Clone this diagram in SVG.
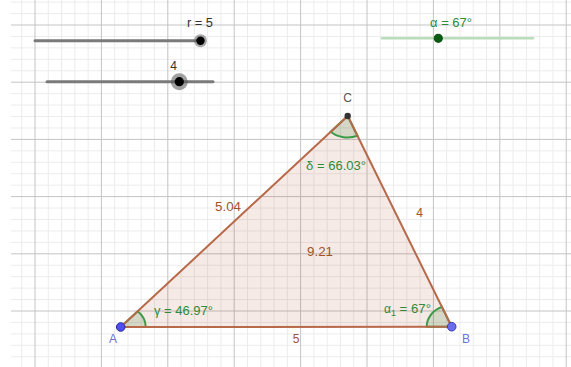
<svg xmlns="http://www.w3.org/2000/svg" width="571" height="367" viewBox="0 0 571 367">
<style>
.minor{stroke:#ececec;stroke-width:1;fill:none}
.major{stroke:#c4c4c4;stroke-width:1;fill:none}
.t{font-family:"Liberation Sans",Arial,sans-serif;font-size:12px}
.dark{fill:#333}
.green{fill:#2f8a3a}
.brown{fill:#a0522d}
.blue{fill:#6f6fd6}
.side{stroke:#b8694a;stroke-width:2;fill:none;stroke-linecap:round}
.ang{fill:rgba(0,100,0,0.13);stroke:#3a9a46;stroke-width:2}
</style>
<rect width="571" height="367" fill="#fff"/>
<g id="grid">
<path class="minor" d="M21.72 0V367M48.28 0V367M61.56 0V367M74.84 0V367M88.12 0V367M114.68 0V367M127.96 0V367M141.24 0V367M154.52 0V367M181.08 0V367M194.36 0V367M207.64 0V367M220.92 0V367M247.48 0V367M260.76 0V367M274.04 0V367M287.32 0V367M313.88 0V367M327.16 0V367M340.44 0V367M353.72 0V367M380.28 0V367M393.56 0V367M406.84 0V367M420.12 0V367M446.68 0V367M459.96 0V367M473.24 0V367M486.52 0V367M513.08 0V367M526.36 0V367M539.64 0V367M552.92 0V367"/>
<path class="minor" d="M11 2.12H571M11 13.56H571M11 36.44H571M11 47.88H571M11 59.32H571M11 70.76H571M11 93.64H571M11 105.08H571M11 116.52H571M11 127.96H571M11 150.84H571M11 162.28H571M11 173.72H571M11 185.16H571M11 208.04H571M11 219.48H571M11 230.92H571M11 242.36H571M11 265.24H571M11 276.68H571M11 288.12H571M11 299.56H571M11 322.44H571M11 333.88H571M11 345.32H571M11 356.76H571"/>
<path class="major" d="M35 0V367M101.4 0V367M167.8 0V367M234.2 0V367M300.6 0V367M367 0V367M433.4 0V367M499.8 0V367M566.2 0V367"/>
<path class="major" d="M11 25H571M11 82.2H571M11 139.4H571M11 196.6H571M11 253.8H571M11 311H571"/>
</g>
<g id="slider-r">
<line x1="35" y1="40.7" x2="200.5" y2="40.7" stroke="#7a7a7a" stroke-width="3" stroke-linecap="round"/>
<circle cx="200.5" cy="40.7" r="6.5" fill="#555" opacity="0.5"/>
<circle cx="200.5" cy="40.7" r="4.2" fill="#000"/>
<text class="t dark" x="187" y="27" textLength="26" lengthAdjust="spacingAndGlyphs">r = 5</text>
</g>
<g id="slider-4">
<line x1="47" y1="81.7" x2="213" y2="81.7" stroke="#7a7a7a" stroke-width="3" stroke-linecap="round"/>
<circle cx="179.3" cy="81.7" r="8.5" fill="#555" opacity="0.55"/>
<circle cx="179.3" cy="81.7" r="4.6" fill="#000"/>
<text class="t dark" x="173.5" y="70" text-anchor="middle">4</text>
</g>
<g id="slider-alpha">
<line x1="382" y1="38.3" x2="533" y2="38.3" stroke="#b9dcb9" stroke-width="2.5" stroke-linecap="round"/>
<circle cx="438.3" cy="38.3" r="4.6" fill="#0a5a14"/>
<text class="t green" x="430" y="27" textLength="42" lengthAdjust="spacingAndGlyphs">α = 67°</text>
</g>
<g id="triangle">
<polygon points="120.7,327 451.7,326.7 347.7,116" fill="rgba(153,51,0,0.1)"/>
</g>
<g id="angles">
<path id="angle-gamma" class="ang" d="M120.7 327L145.7 327A25 21.5 0 0 0 137.7 311.2Z"/>
<path id="angle-alpha1" class="ang" d="M451.7 326.7L441.9 306.9A25 21.5 0 0 0 426.7 326.7Z"/>
<path id="angle-delta" class="ang" d="M347.7 116L330.7 131.8A25 21.5 0 0 0 357.5 135.8Z"/>
</g>
<g id="connectors">
<line id="side-c" class="side" x1="120.7" y1="327" x2="451.7" y2="326.7"/>
<line id="side-a" class="side" x1="451.7" y1="326.7" x2="347.7" y2="116"/>
<line id="side-b" class="side" x1="347.7" y1="116" x2="120.7" y2="327"/>
</g>
<g id="labels">
<text class="t brown" x="215" y="211" textLength="26" lengthAdjust="spacingAndGlyphs">5.04</text>
<text class="t brown" x="419.5" y="217" text-anchor="middle">4</text>
<text class="t brown" x="307" y="256" textLength="26" lengthAdjust="spacingAndGlyphs">9.21</text>
<text class="t brown" x="296" y="343" text-anchor="middle">5</text>
<text class="t green" x="306" y="170" textLength="60" lengthAdjust="spacingAndGlyphs">δ = 66.03°</text>
<text class="t green" x="154" y="315" textLength="59" lengthAdjust="spacingAndGlyphs">γ = 46.97°</text>
<text class="t green" x="384" y="313">α<tspan font-size="9" dy="3">1</tspan><tspan dy="-3" textLength="35" lengthAdjust="spacingAndGlyphs"> = 67°</tspan></text>
</g>
<g id="point-A">
<circle cx="120.7" cy="327" r="4.3" fill="#4d4df0" stroke="#2a2aa0" stroke-width="1"/>
<text class="t blue" x="113" y="343" text-anchor="middle">A</text>
</g>
<g id="point-B">
<circle cx="451.7" cy="326.7" r="4.3" fill="#6b6bf0" stroke="#3a3ab0" stroke-width="1"/>
<text class="t blue" x="466" y="343" text-anchor="middle">B</text>
</g>
<g id="point-C">
<circle cx="347.7" cy="116" r="3.2" fill="#333"/>
<text class="t" fill="#555" x="347.5" y="102" text-anchor="middle">C</text>
</g>
</svg>
